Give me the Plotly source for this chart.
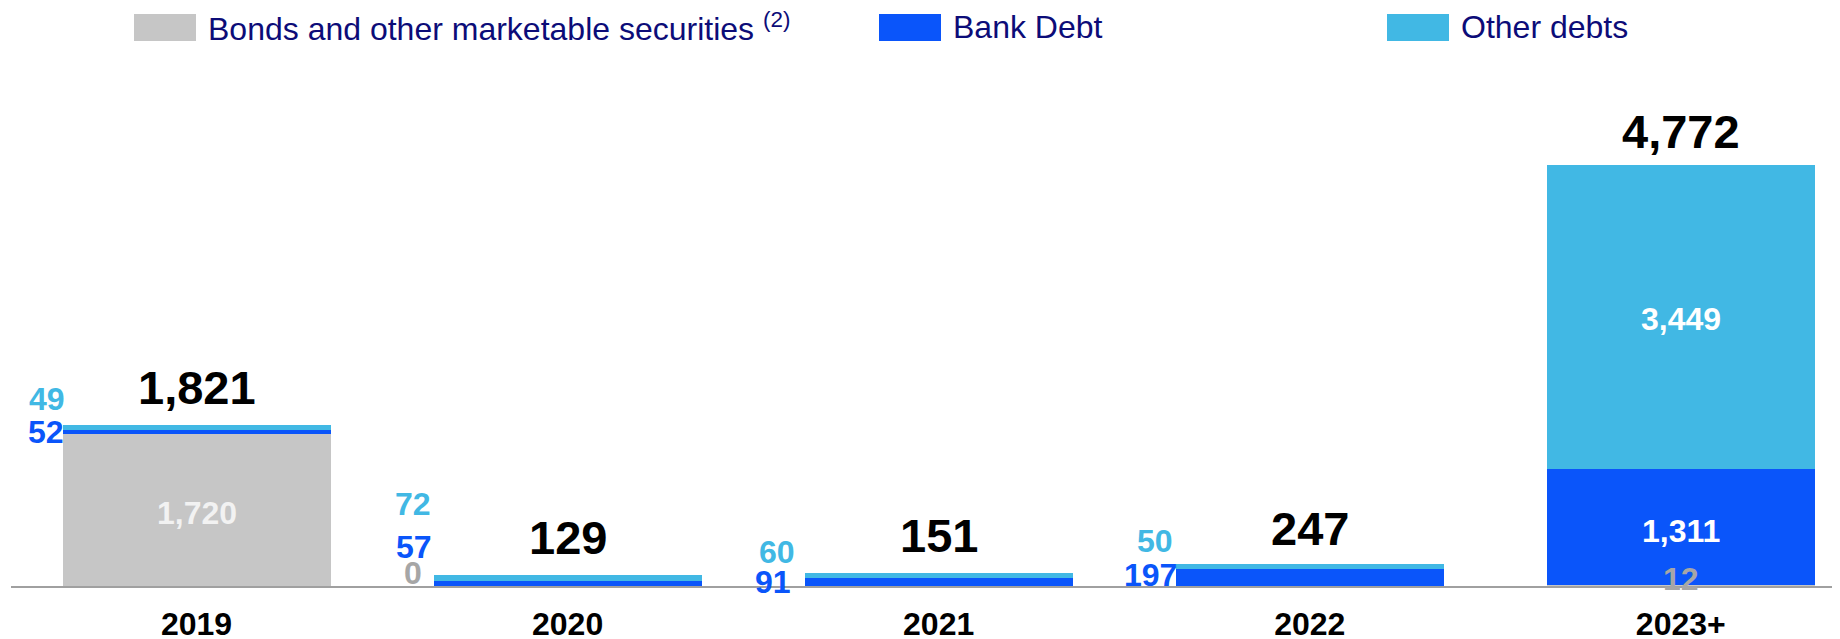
import plotly.graph_objects as go

# ---------------- data ----------------
categories = ["2019", "2020", "2021", "2022", "2023+"]
bonds = [1720, 0, 0, 0, 12]
bank_debt = [52, 57, 91, 197, 1311]
other_debts = [49, 72, 60, 50, 3449]
totals = [1821, 129, 151, 247, 4772]
series_names = ["Bonds and other marketable securities", "Bank Debt", "Other debts"]

# ---------------- style ----------------
C_BONDS = "#C6C6C6"
C_BANK = "#0A55FA"
C_OTHER = "#41B8E4"
C_LEG_TEXT = "#0C0C78"
C_ZERO_LBL = "#A6A6A6"
FONT = "Liberation Sans, Arial, sans-serif"

OFF = 8  # default page body margin of the browser
W, H = 1840 - OFF, 639 - OFF
M_L, M_R, M_T, M_B = 3, 0, 52, 53
PLOT_W = W - M_L - M_R
PLOT_H = H - M_T - M_B
Y_MAX = 5962
BAR_HALF_PX = 134
TOTAL_SHIFT = [38, 37, 37, 36, 33]  # px above stack top

stacks = [bonds, bank_debt, other_debts]
fig = go.Figure()
for name, vals, col in zip(series_names, stacks, [C_BONDS, C_BANK, C_OTHER]):
    fig.add_trace(go.Bar(x=categories, y=vals, name=name, marker_color=col,
                         marker_line_width=0, showlegend=False))

ann = []
# totals above bars
for i, t in enumerate(totals):
    ann.append(dict(x=i, y=t, text=f"<b>{t:,}</b>", showarrow=False, yanchor="middle",
                    yshift=TOTAL_SHIFT[i], font=dict(size=47, color="black", family=FONT)))


def seg_mid(i, k):
    base = sum(s[i] for s in stacks[:k])
    return base + stacks[k][i] / 2


inside = [  # (cat index, series index, color, yshift)
    (0, 0, "#F2F2F2", -3),
    (4, 2, "white", -2),
    (4, 1, "white", -4),
    (4, 0, C_ZERO_LBL, 6),
]
for i, k, col, ys in inside:
    ann.append(dict(x=i, y=seg_mid(i, k), text=f"<b>{stacks[k][i]:,}</b>",
                    showarrow=False, yanchor="middle", yshift=ys,
                    font=dict(size=32, color=col, family=FONT)))

# side labels for thin segments: (cat index, series index, gap px from bar edge, px above baseline)
side = [
    (0, 2, -4, 187), (0, 1, -3, 154),
    (1, 2, 1, 82), (1, 1, 0, 39), (1, 0, 10, 13),
    (2, 2, 8, 34), (2, 1, 12, 4),
    (3, 2, 1, 45), (3, 1, -3, 11),
]
side_cols = [C_ZERO_LBL, C_BANK, C_OTHER]
for i, k, gap, up in side:
    ann.append(dict(x=i, y=0, text=f"<b>{stacks[k][i]:,}</b>", showarrow=False,
                    xanchor="right", yanchor="middle", xshift=-(BAR_HALF_PX + gap), yshift=up,
                    font=dict(size=32, color=side_cols[k], family=FONT)))


# legend drawn at pixel positions of the screenshot
def px(xp):
    return (xp - OFF - M_L) / PLOT_W


def py(yp):
    return (H - M_B - (yp - OFF)) / PLOT_H


shapes = []
legend_items = [  # (swatch x0, swatch x1, text x, color, label)
    (134, 196, 206, C_BONDS, series_names[0] + " <sup>(2)</sup>"),
    (879, 941, 951, C_BANK, series_names[1]),
    (1387, 1449, 1459, C_OTHER, series_names[2]),
]
for x0, x1, tx, col, lab in legend_items:
    shapes.append(dict(type="rect", xref="paper", yref="paper", x0=px(x0), x1=px(x1),
                       y0=py(41), y1=py(14), fillcolor=col, line_width=0, layer="above"))
    ann.append(dict(xref="paper", yref="paper", x=px(tx), y=py(27), text=lab, showarrow=False,
                    xanchor="left", yanchor="middle",
                    font=dict(size=32, color=C_LEG_TEXT, family=FONT)))

fig.update_layout(
    width=W, height=H, barmode="stack", bargap=0.2776,
    margin=dict(l=M_L, r=M_R, t=M_T, b=M_B, pad=0, autoexpand=False),
    plot_bgcolor="white", paper_bgcolor="white",
    annotations=ann, shapes=shapes,
    font=dict(family=FONT),
    xaxis=dict(type="category", range=[-0.5, 4.429], showgrid=False, zeroline=False,
               showline=True, linecolor="#A0A0A0", linewidth=2, ticks="", automargin=False,
               tickfont=dict(size=32, color="black", family=FONT, weight="bold"),
               ticklabelstandoff=9),
    yaxis=dict(range=[0, Y_MAX], visible=False, automargin=False),
)

fig.write_html("out.html")
